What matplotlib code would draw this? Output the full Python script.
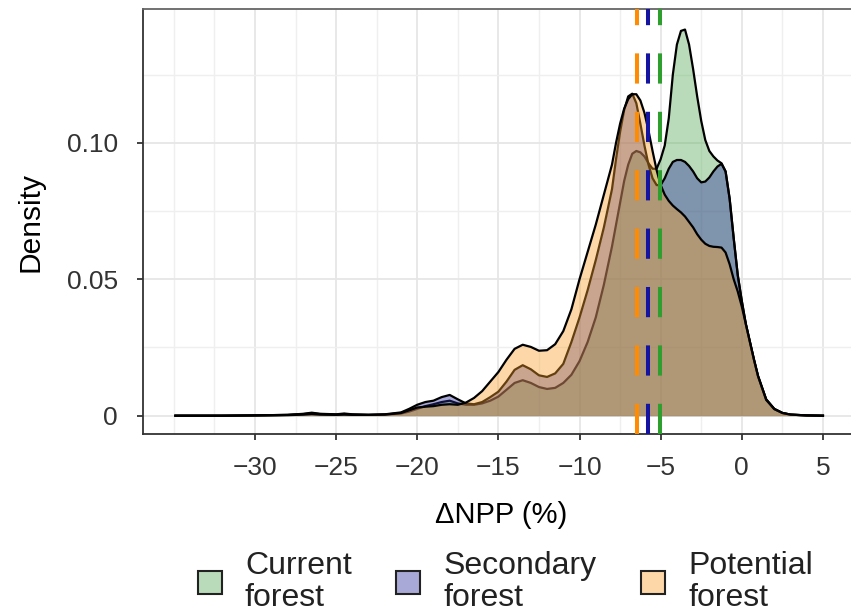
import matplotlib
matplotlib.use("Agg")
import matplotlib.pyplot as plt
from matplotlib.patches import Patch
from matplotlib.colors import to_rgba
from matplotlib.ticker import FixedLocator

plt.rcParams["font.family"] = ["Liberation Sans", "DejaVu Sans"]

# density curves (ΔNPP in %, density)
npp = [-34.9, -32, -30, -28, -27, -26.5, -26, -25, -24.5, -24,
       -23, -22, -21, -20.5, -20, -19.5, -19, -18.5, -18, -17.5,
       -17, -16.5, -16, -15.5, -15, -14.5, -14, -13.5, -13, -12.5,
       -12, -11.5, -11, -10.5, -10, -9.5, -9, -8.5,
       -8, -7.75, -7.5, -7.25, -7, -6.75, -6.5, -6.25, -6, -5.75,
       -5.5, -5.25, -5, -4.75, -4.5, -4.25, -4, -3.75, -3.5, -3.25,
       -3, -2.75, -2.5, -2.25, -2, -1.75, -1.5, -1.25, -1, -0.75,
       -0.5, -0.25, 0, 0.25, 0.5, 0.75, 1,
       1.5, 2, 2.5, 3, 4, 5]

current = [0, 0, 0.0001, 0.0003, 0.0006, 0.0009, 0.0006, 0.0004, 0.0006, 0.0004,
           0.0003, 0.0004, 0.0008, 0.0015, 0.0025, 0.0035, 0.0042, 0.005, 0.0055, 0.0045,
           0.004, 0.004, 0.0045, 0.0055, 0.007, 0.0095, 0.012, 0.013, 0.012, 0.0105,
           0.0098, 0.0102, 0.012, 0.015, 0.02, 0.027, 0.036, 0.048,
           0.062, 0.070, 0.078, 0.086, 0.092, 0.096, 0.097, 0.0965, 0.095, 0.0925,
           0.0905, 0.0905, 0.094, 0.099, 0.109, 0.125, 0.136, 0.141, 0.1415, 0.136,
           0.127, 0.117, 0.108, 0.101, 0.097, 0.095, 0.0935, 0.0925, 0.0895, 0.0795,
           0.065, 0.0515, 0.042, 0.0335, 0.027, 0.0205, 0.0145,
           0.006, 0.0025, 0.001, 0.0004, 0.0001, 0]

secondary = [0, 0, 0.0001, 0.0003, 0.0007, 0.0011, 0.0007, 0.0005, 0.0008, 0.0005,
             0.0003, 0.0005, 0.0012, 0.0025, 0.004, 0.005, 0.0055, 0.0068, 0.0076, 0.006,
             0.0045, 0.0042, 0.005, 0.0068, 0.0088, 0.0125, 0.0168, 0.0185, 0.017, 0.0148,
             0.0142, 0.0155, 0.019, 0.027, 0.036, 0.046, 0.057, 0.069,
             0.083, 0.094, 0.104, 0.112, 0.117, 0.118, 0.1145, 0.107, 0.099, 0.092,
             0.087, 0.0845, 0.0845, 0.087, 0.0905, 0.093, 0.0937, 0.0937, 0.093, 0.0915,
             0.0895, 0.087, 0.0855, 0.0858, 0.0873, 0.0895, 0.0913, 0.0923, 0.0895, 0.0795,
             0.065, 0.0515, 0.042, 0.0335, 0.027, 0.0205, 0.0145,
             0.006, 0.0025, 0.001, 0.0004, 0.0001, 0]

potential = [0, 0, 0.0001, 0.0002, 0.0004, 0.0006, 0.0004, 0.0003, 0.0004, 0.0003,
             0.0003, 0.0004, 0.001, 0.002, 0.003, 0.0033, 0.0035, 0.004, 0.0042, 0.004,
             0.0048, 0.0065, 0.009, 0.0125, 0.016, 0.0205, 0.0245, 0.026, 0.0252, 0.0238,
             0.024, 0.0262, 0.031, 0.039, 0.050, 0.060, 0.070, 0.081,
             0.092, 0.100, 0.107, 0.1125, 0.116, 0.1178, 0.1178, 0.1155, 0.111, 0.1045,
             0.097, 0.090, 0.0845, 0.081, 0.0787, 0.077, 0.0757, 0.0745, 0.073, 0.071,
             0.069, 0.0665, 0.0645, 0.063, 0.0622, 0.0619, 0.0618, 0.0616, 0.0598, 0.0555,
             0.050, 0.0455, 0.040, 0.0335, 0.027, 0.0205, 0.0145,
             0.0058, 0.0024, 0.001, 0.0004, 0.0001, 0]

labels = ["Current\nforest", "Secondary\nforest", "Potential\nforest"]
means = [-5.03, -5.77, -6.44]
fills = ["#50A750", "#2A2A9B", "#FA9D25"]
mean_cols = ["#2E9E2E", "#1414A0", "#FF8C00"]
ALPHA = 0.4

fig = plt.figure(figsize=(8.51, 6.14), dpi=100)
ax = fig.add_axes([0.168, 0.2932, 0.841, 0.692])

for i, y in enumerate([current, secondary, potential]):
    ax.fill_between(npp, 0, y, color=fills[i], alpha=ALPHA, lw=0, zorder=2 + i)
    ax.plot(npp, y, color="black", lw=1.6, zorder=2 + i, solid_joinstyle="round")

for m, c in zip(means, mean_cols):
    ax.axvline(m, color=c, lw=2.9, ls=(0, (7.5, 7)), zorder=6)

ax.set_xlim(-36.9, 7.2)
ax.set_ylim(-0.0067, 0.149)
ax.set_xticks([-30, -25, -20, -15, -10, -5, 0, 5])
ax.set_xticklabels(["\u221230", "\u221225", "\u221220", "\u221215", "\u221210",
                    "\u22125", "0", "5"])
ax.set_yticks([0, 0.05, 0.10])
ax.set_yticklabels(["0", "0.05", "0.10"])
ax.xaxis.set_minor_locator(FixedLocator([-35, -32.5, -27.5, -22.5, -17.5, -12.5,
                                         -7.5, -2.5, 2.5]))
ax.yaxis.set_minor_locator(FixedLocator([0.025, 0.075, 0.125]))
ax.grid(True, which="major", color="#e6e6e6", lw=1.3, zorder=0)
ax.grid(True, which="minor", color="#efefef", lw=1.0, zorder=0)
ax.set_axisbelow(True)
ax.tick_params(which="major", length=4, width=1.3, color="#333333",
               labelsize=19, labelcolor="#333333")
ax.tick_params(axis="x", pad=12)
ax.tick_params(axis="y", pad=14)
ax.tick_params(which="minor", length=0)
for s in ax.spines.values():
    s.set_color("#333333")
    s.set_linewidth(1.3)
ax.spines["top"].set_color("#666666")

ax.set_xlabel("\u0394NPP (%)", fontsize=21, labelpad=15)
ax.set_ylabel("Density", fontsize=21.5, labelpad=16)

handles = [Patch(facecolor=to_rgba(f, ALPHA), edgecolor="#222222", lw=1.5)
           for f in fills]
leg = fig.legend(handles, labels, ncol=3, loc="center left",
                 bbox_to_anchor=(198 / 851, 1 - 582 / 614), frameon=False,
                 fontsize=23, borderpad=0, borderaxespad=0,
                 handlelength=0.75, handleheight=0.75, handletextpad=0.72,
                 columnspacing=1.4)
for t in leg.get_texts():
    t.set_linespacing(1.1)
    t.set_color("#222222")

fig.savefig("out.png", dpi=100)
